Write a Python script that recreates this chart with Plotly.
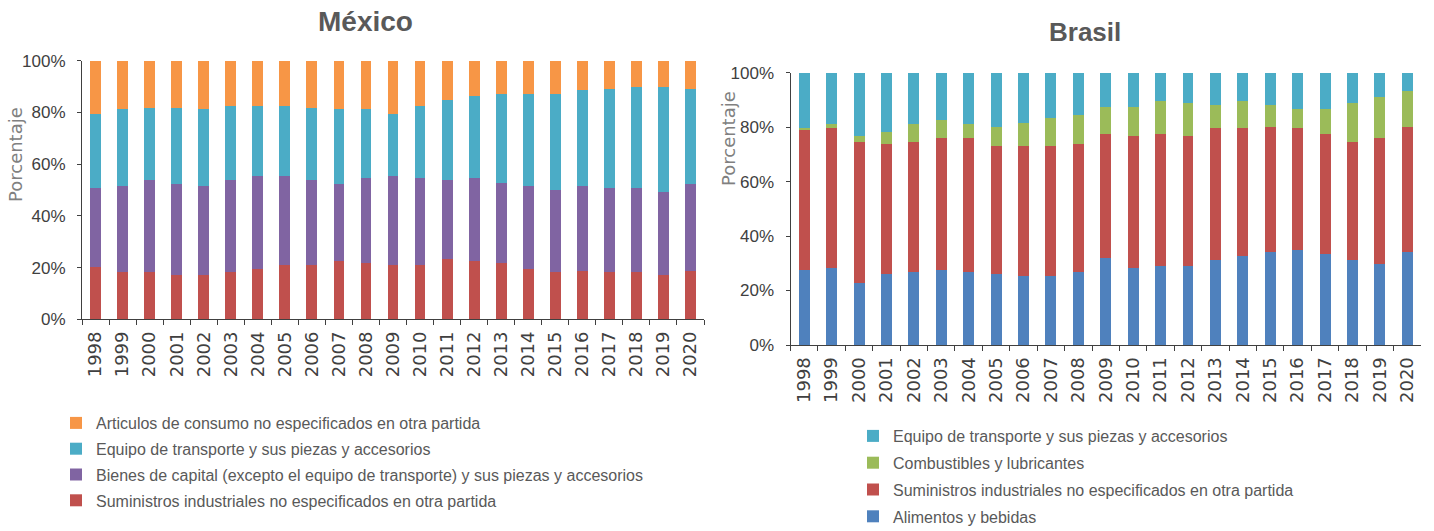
import plotly.graph_objects as go

W, H = 1434, 531

years = [str(y) for y in range(1998, 2021)]

# México: import shares by category (%)
mex_suministros = [20.3, 18.2, 18.2, 17.3, 17.3, 18.1, 19.6, 21.0, 21.0, 22.6, 21.8, 21.0,
                   21.0, 23.4, 22.6, 21.8, 19.6, 18.2, 18.8, 18.2, 18.2, 17.3, 18.8]
mex_bienes = [30.5, 33.3, 35.5, 35.1, 34.4, 35.6, 35.7, 34.3, 32.7, 29.8, 32.7, 34.3,
              33.5, 30.3, 31.9, 31.1, 32.1, 31.9, 32.9, 32.7, 32.7, 32.1, 33.6]
mex_equipo = [28.7, 29.7, 28.1, 29.4, 29.5, 28.9, 27.3, 27.3, 28.1, 28.8, 26.7, 24.2,
              28.1, 31.2, 31.8, 34.2, 35.4, 37.0, 36.9, 38.3, 39.1, 40.6, 36.8]
mex_articulos = [20.5, 18.8, 18.2, 18.2, 18.8, 17.4, 17.4, 17.4, 18.2, 18.8, 18.8, 20.5,
                 17.4, 15.1, 13.7, 12.9, 12.9, 12.9, 11.4, 10.8, 10.0, 10.0, 10.8]

# Brasil: import shares by category (%)
bra_alimentos = [27.6, 28.3, 22.6, 26.1, 26.8, 27.6, 26.8, 26.1, 25.4, 25.4, 26.8, 31.8,
                 28.3, 29.0, 29.0, 31.1, 32.6, 34.0, 34.8, 33.3, 31.1, 29.6, 34.0]
bra_suministros = [51.2, 51.3, 52.0, 47.7, 47.8, 48.4, 49.2, 47.0, 47.7, 47.7, 47.0, 45.6,
                   48.4, 48.4, 47.7, 48.5, 47.0, 46.2, 44.8, 44.1, 43.5, 46.4, 46.2]
bra_combustibles = [0.8, 1.4, 2.1, 4.3, 6.4, 6.5, 5.0, 7.1, 8.6, 10.1, 10.7, 10.0,
                    10.7, 12.2, 12.2, 8.5, 10.0, 7.9, 7.2, 9.4, 14.3, 15.0, 13.0]
bra_equipo = [20.4, 19.0, 23.3, 21.9, 19.0, 17.5, 19.0, 19.8, 18.3, 16.8, 15.5, 12.6,
              12.6, 10.4, 11.1, 11.9, 10.4, 11.9, 13.2, 13.2, 11.1, 9.0, 6.8]

ORANGE, CYAN, PURPLE = "#F79646", "#4BACC6", "#8064A2"
RED, GREEN, BLUE = "#C0504D", "#9BBB59", "#4F81BD"

SANS = "Liberation Sans, Arial, sans-serif"
AXIS_COLOR = "#404040"
TEXT_GRAY = "#595959"

# stacked bottom to top; the legend lists them top to bottom
mex_series = [
    ("Suministros industriales no especificados en otra partida", mex_suministros, RED),
    ("Bienes de capital (excepto el equipo de transporte) y sus piezas y accesorios", mex_bienes, PURPLE),
    ("Equipo de transporte y sus piezas y accesorios", mex_equipo, CYAN),
    ("Articulos de consumo no especificados en otra partida", mex_articulos, ORANGE),
]
bra_series = [
    ("Alimentos y bebidas", bra_alimentos, BLUE),
    ("Suministros industriales no especificados en otra partida", bra_suministros, RED),
    ("Combustibles y lubricantes", bra_combustibles, GREEN),
    ("Equipo de transporte y sus piezas y accesorios", bra_equipo, CYAN),
]

fig = go.Figure()

for i, (name, vals, color) in enumerate(mex_series):
    fig.add_trace(go.Bar(
        x=years, y=vals, name=name, marker=dict(color=color, line=dict(width=0)),
        xaxis="x", yaxis="y", legend="legend", legendgroup=f"mx{i}",
        legendrank=100 - i,
        hovertemplate="%{x}: %{y:.1f}%<extra>" + name + "</extra>",
    ))

for i, (name, vals, color) in enumerate(bra_series):
    fig.add_trace(go.Bar(
        x=years, y=vals, name=name, marker=dict(color=color, line=dict(width=0)),
        xaxis="x2", yaxis="y2", legend="legend2", legendgroup=f"br{i}",
        legendrank=100 - i,
        hovertemplate="%{x}: %{y:.1f}%<extra>" + name + "</extra>",
    ))


def px_x(v):
    return v / W


def px_y(v):
    return 1 - v / H


xaxis_common = dict(
    type="category", showgrid=False, zeroline=False, showline=True,
    linecolor=AXIS_COLOR, linewidth=1, ticks="outside", tickson="boundaries",
    ticklen=5, tickcolor=AXIS_COLOR, tickangle=-90, ticklabelstandoff=4,
    automargin=False,
    tickfont=dict(family="DejaVu Sans", size=18, color=AXIS_COLOR),
)
yaxis_common = dict(
    range=[0, 100], dtick=20, ticksuffix="%", showgrid=False, zeroline=False,
    showline=True, linecolor=AXIS_COLOR, linewidth=1, ticks="outside",
    ticklen=4, tickcolor=AXIS_COLOR, ticklabelstandoff=8, automargin=False,
    tickfont=dict(family=SANS, size=17, color=AXIS_COLOR),
)

legend_common = dict(
    orientation="v", traceorder="grouped",
    font=dict(family=SANS, size=16, color=TEXT_GRAY),
    bgcolor="rgba(0,0,0,0)", itemwidth=30, xanchor="left", yanchor="top",
)

fig.update_layout(
    width=W, height=H, autosize=False,
    margin=dict(l=0, r=0, t=0, b=0, pad=0, autoexpand=False),
    paper_bgcolor="white", plot_bgcolor="white",
    barmode="stack", bargap=0.6, showlegend=True,
    xaxis=dict(domain=[px_x(82), px_x(704)], anchor="y", **xaxis_common),
    yaxis=dict(domain=[px_y(319.3), px_y(60.7)], anchor="x", **yaxis_common),
    xaxis2=dict(domain=[px_x(790.5), px_x(1421)], anchor="y2", **xaxis_common),
    yaxis2=dict(domain=[px_y(345), px_y(72.7)], anchor="x2", **yaxis_common),
    legend=dict(x=px_x(56), y=px_y(406), tracegroupgap=2, **legend_common),
    legend2=dict(x=px_x(853), y=px_y(419), tracegroupgap=3, **legend_common),
    annotations=[
        dict(text="<b>México</b>", x=px_x(365), y=px_y(22), xref="paper", yref="paper",
             xanchor="center", yanchor="middle", showarrow=False,
             font=dict(family=SANS, size=28, color=TEXT_GRAY)),
        dict(text="<b>Brasil</b>", x=px_x(1085), y=px_y(32), xref="paper", yref="paper",
             xanchor="center", yanchor="middle", showarrow=False,
             font=dict(family=SANS, size=26, color=TEXT_GRAY)),
        dict(text="Porcentaje", x=px_x(16), y=px_y(155), xref="paper", yref="paper",
             xanchor="center", yanchor="middle", showarrow=False, textangle=-90,
             font=dict(family="DejaVu Sans", size=18, color="#808080")),
        dict(text="Porcentaje", x=px_x(728), y=px_y(139), xref="paper", yref="paper",
             xanchor="center", yanchor="middle", showarrow=False, textangle=-90,
             font=dict(family="DejaVu Sans", size=18, color="#808080")),
    ],
)

fig.write_html("out.html")
